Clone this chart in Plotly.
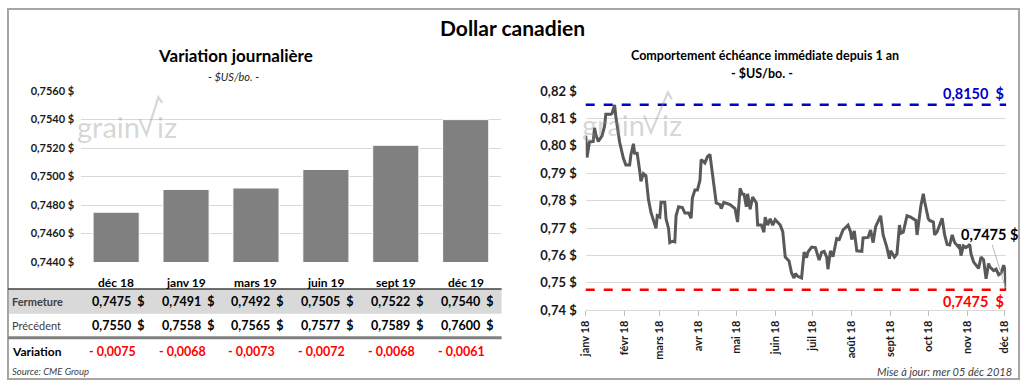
import plotly.graph_objects as go
import pandas as pd

W, H = 1024, 388

# ---------------- data ----------------
categories = ["déc 18", "janv 19", "mars 19", "juin 19", "sept 19", "déc 19"]
fermeture = [0.7475, 0.7491, 0.7492, 0.7505, 0.7522, 0.7540]
precedent = [0.7550, 0.7558, 0.7565, 0.7577, 0.7589, 0.7600]
variation = [-0.0075, -0.0068, -0.0073, -0.0072, -0.0068, -0.0061]
left_ticks = [0.7440, 0.7460, 0.7480, 0.7500, 0.7520, 0.7540, 0.7560]

history_start = "2018-01-01"
history_days = [0, 1, 3, 6, 7, 8, 10, 13, 15, 16, 20, 21, 23, 24, 27, 30, 32, 35, 36, 38,
                39, 41, 43, 44, 46, 48, 50, 52, 56, 57, 59, 60, 63, 64, 66, 67, 69, 71, 72, 74,
                77, 79, 82, 84, 85, 87, 89, 91, 92, 94, 95, 97, 99, 101, 104, 107, 108, 110, 115, 119,
                121, 123, 125, 126, 128, 129, 131, 133, 136, 137, 140, 142, 143, 145, 147, 149, 151, 155, 157, 159,
                162, 164, 166, 167, 169, 172, 174, 176, 177, 180, 183, 186, 188, 190, 192, 193, 195, 197, 200, 202,
                205, 209, 211, 212, 214, 216, 220, 221, 225, 227, 229, 231, 233, 235, 237, 240, 242, 243, 246, 248,
                250, 251, 253, 256, 259, 263, 264, 267, 269, 270, 273, 274, 277, 278, 280, 282, 284, 286, 288, 290,
                292, 294, 297, 298, 299, 301, 303, 306, 307, 309, 311, 313, 315, 317, 319, 321, 322, 325, 327, 329,
                331, 333, 334, 335]
history_values = [0.8037, 0.7958, 0.8014, 0.8016, 0.8066, 0.8043, 0.8016, 0.8037, 0.8072, 0.8116,
                  0.8116, 0.8119, 0.8150, 0.8107, 0.8014, 0.7955, 0.7930, 0.7930, 0.7967, 0.8008,
                  0.7973, 0.7973, 0.7909, 0.7871, 0.7899, 0.7891, 0.7804, 0.7757, 0.7699, 0.7745,
                  0.7740, 0.7794, 0.7794, 0.7734, 0.7699, 0.7647, 0.7652, 0.7650, 0.7745, 0.7778,
                  0.7775, 0.7755, 0.7755, 0.7736, 0.7810, 0.7839, 0.7839, 0.7874, 0.7950, 0.7944,
                  0.7938, 0.7961, 0.7969, 0.7897, 0.7792, 0.7786, 0.7771, 0.7794, 0.7786, 0.7771,
                  0.7722, 0.7845, 0.7821, 0.7827, 0.7778, 0.7825, 0.7769, 0.7813, 0.7792, 0.7711,
                  0.7711, 0.7685, 0.7740, 0.7711, 0.7734, 0.7711, 0.7731, 0.7711, 0.7687, 0.7594,
                  0.7580, 0.7536, 0.7518, 0.7534, 0.7524, 0.7518, 0.7612, 0.7592, 0.7612, 0.7631,
                  0.7629, 0.7583, 0.7612, 0.7615, 0.7594, 0.7550, 0.7617, 0.7596, 0.7662, 0.7658,
                  0.7693, 0.7711, 0.7687, 0.7658, 0.7690, 0.7617, 0.7615, 0.7664, 0.7666, 0.7693,
                  0.7647, 0.7705, 0.7728, 0.7745, 0.7675, 0.7629, 0.7588, 0.7617, 0.7594, 0.7606,
                  0.7711, 0.7681, 0.7685, 0.7745, 0.7740, 0.7728, 0.7675, 0.7780, 0.7825, 0.7798,
                  0.7734, 0.7728, 0.7722, 0.7675, 0.7687, 0.7711, 0.7736, 0.7675, 0.7640, 0.7638,
                  0.7675, 0.7647, 0.7631, 0.7640, 0.7600, 0.7635, 0.7629, 0.7640, 0.7606, 0.7577,
                  0.7565, 0.7553, 0.7594, 0.7585, 0.7515, 0.7571, 0.7559, 0.7545, 0.7550, 0.7530,
                  0.7536, 0.7565, 0.7550, 0.7475]
month_ticks = ["2018-01-01", "2018-02-01", "2018-03-01", "2018-04-01", "2018-05-01", "2018-06-01",
               "2018-07-01", "2018-08-01", "2018-09-01", "2018-10-01", "2018-11-01", "2018-12-01"]
month_labels = ["janv 18", "févr 18", "mars 18", "avr 18", "mai 18", "juin 18",
                "juil 18", "août 18", "sept 18", "oct 18", "nov 18", "déc 18"]
right_ticks = [0.74, 0.75, 0.76, 0.77, 0.78, 0.79, 0.80, 0.81, 0.82]
high_1y = 0.8150
low_1y = 0.7475

assert len(history_days) == len(history_values)
history_dates = pd.to_datetime(history_start) + pd.to_timedelta(history_days, unit="D")


# ---------------- helpers ----------------
def px(x):
    return x / W


def py(y):
    return 1 - y / H


def fr(v, d):
    return f"{v:.{d}f}".replace(".", ",")


FONT = "Lato"
DARK = "#1a1a1a"

fig = go.Figure()

# Left bar chart
fig.add_trace(go.Bar(
    x=categories, y=fermeture, xaxis="x", yaxis="y",
    marker=dict(color="#808080", line=dict(color="#ffffff", width=1)),
    hoverinfo="skip", showlegend=False,
))

# Right line chart
fig.add_trace(go.Scatter(
    x=history_dates, y=history_values, xaxis="x2", yaxis="y2", mode="lines",
    line=dict(color="#595959", width=3), hoverinfo="skip", showlegend=False,
))

shapes = []
annotations = []

# outer border
shapes.append(dict(type="rect", xref="paper", yref="paper", x0=px(1), x1=px(1023), y0=py(387), y1=py(1),
                   line=dict(color="#a6a6a6", width=2), fillcolor="rgba(0,0,0,0)"))

# table backgrounds / rules
shapes.append(dict(type="rect", xref="paper", yref="paper", x0=px(1), x1=px(500), y0=py(319), y1=py(293),
                   line=dict(width=0), fillcolor="#d9d9d9", layer="below"))
shapes.append(dict(type="line", xref="paper", yref="paper", x0=px(1), x1=px(500), y0=py(293), y1=py(293),
                   line=dict(color="#404040", width=1.5)))
shapes.append(dict(type="line", xref="paper", yref="paper", x0=px(1), x1=px(500), y0=py(344), y1=py(344),
                   line=dict(color="#808080", width=3)))

# high / low dashed lines on the right chart
shapes.append(dict(type="line", xref="x2 domain", yref="y2", x0=0, x1=1, y0=high_1y, y1=high_1y,
                   line=dict(color="#0000c8", width=2.5, dash="dash")))
shapes.append(dict(type="line", xref="x2 domain", yref="y2", x0=0, x1=1, y0=low_1y, y1=low_1y,
                   line=dict(color="#ff0000", width=2.5, dash="dash")))


def ann(text, x, y, size, weight="normal", color=DARK, xanchor="center", style="normal", **kw):
    d = dict(text=text, x=x, y=y, xref="paper", yref="paper", showarrow=False,
             xanchor=xanchor, yanchor="middle",
             font=dict(family=FONT, size=size, color=color, weight=weight, style=style))
    d.update(kw)
    annotations.append(d)


# Titles
ann("Dollar canadien", px(511), py(20), 21, "bold", "#000000")
ann("Variation journalière", px(231), py(50), 17, "bold", "#000000")
ann("- $US/bo. -", px(229), py(71), 11, color="#262626", style="italic")
ann("Comportement échéance immédiate depuis 1 an", px(766), py(50), 12.5, "bold", "#000000")
ann("- $US/bo. -", px(763), py(68), 12.5, "bold", "#000000")

# Category labels + table values
for i, c in enumerate(categories):
    annotations.append(dict(text=c, x=c, y=py(286), xref="x", yref="paper", showarrow=False,
                            yanchor="middle", font=dict(family=FONT, size=12, color="#000000", weight="bold")))
    annotations.append(dict(text=fr(fermeture[i], 4) + "&nbsp;&nbsp;$", x=c, y=py(306), xref="x", yref="paper",
                            showarrow=False, yanchor="middle", xshift=2,
                            font=dict(family=FONT, size=12.5, color="#000000", weight="bold")))
    annotations.append(dict(text=fr(precedent[i], 4) + "&nbsp;&nbsp;$", x=c, y=py(331), xref="x", yref="paper",
                            showarrow=False, yanchor="middle", xshift=2,
                            font=dict(family=FONT, size=12.5, color="#000000", weight="bold")))
    annotations.append(dict(text="- " + fr(abs(variation[i]), 4), x=c, y=py(358), xref="x", yref="paper",
                            showarrow=False, yanchor="middle", xshift=-4,
                            font=dict(family=FONT, size=12.5, color="#ff0000", weight="bold")))

ann("Fermeture", px(3), py(306), 11, "bold", "#404040", xanchor="left")
ann("Précédent", px(3), py(331), 11, "normal", "#404040", xanchor="left")
ann("Variation", px(3), py(358), 12, "bold", "#000000", xanchor="left")
ann("Source: CME Group", px(3), py(379), 9.5, color="#404040", xanchor="left", style="italic")
ann("Mise à jour: mer 05 déc 2018", px(1018), py(379), 11, color="#404040", xanchor="right", style="italic")

# Right chart labels
ann(fr(high_1y, 4) + "&nbsp;&nbsp;$", px(1010), py(89), 14.5, "bold", "#0000c8", xanchor="right")
ann(fr(low_1y, 4) + "&nbsp;&nbsp;$", px(1010), py(306), 14.5, "bold", "#ff0000", xanchor="right")
annotations.append(dict(text=fr(history_values[-1], 4) + " $", x=history_dates[-1], y=history_values[-1],
                        xref="x2", yref="y2", showarrow=True, arrowhead=0, arrowwidth=0.8,
                        arrowcolor="#a6a6a6", ax=-17, ay=-55, standoff=2,
                        font=dict(family=FONT, size=14.5, color="#000000", weight="bold")))

# Watermarks ("grainViz")
WM = "rgba(140,140,140,0.36)"
for (gx, gy, vpath, ix) in [
    (69, 124, [(134, 116), (141, 132), (153, 93), (157, 99)], 150),
    (579, 121, [(644, 112), (651, 130), (668, 88), (672, 95)], 660),
]:
    ann("grain", px(gx), py(gy), 29, "normal", WM, xanchor="left")
    ann("iz", px(ix), py(gy), 29, "normal", WM, xanchor="left")
    p = "M " + " L ".join(f"{px(a):.5f},{py(b):.5f}" for a, b in vpath)
    shapes.append(dict(type="path", xref="paper", yref="paper", path=p,
                       line=dict(color=WM, width=2.2)))

fig.update_layout(
    width=W, height=H, margin=dict(l=0, r=0, t=0, b=0),
    paper_bgcolor="#ffffff", plot_bgcolor="#ffffff",
    bargap=0.34, showlegend=False,
    shapes=shapes, annotations=annotations,
    xaxis=dict(domain=[px(75), px(499)], anchor="y", showticklabels=False, showgrid=False,
               zeroline=False, showline=False, ticks=""),
    yaxis=dict(domain=[py(265), py(86.7)], anchor="x", range=[left_ticks[0], left_ticks[-1]],
               tickvals=left_ticks, ticktext=[fr(v, 4) + " $" for v in left_ticks],
               showgrid=True, gridcolor="#d9d9d9", gridwidth=1, zeroline=False, ticks="",
               ticklabelstandoff=6,
               tickfont=dict(family=FONT, size=11, color=DARK, weight="bold")),
    xaxis2=dict(domain=[px(585), px(1010)], anchor="y2", type="date",
                range=["2018-01-01", "2018-12-02"],
                tickvals=month_ticks, ticktext=month_labels, tickangle=-90,
                ticks="outside", ticklen=5, tickcolor="#bfbfbf", showgrid=False,
                showline=True, linecolor="#d9d9d9", zeroline=False,
                tickfont=dict(family=FONT, size=11, color=DARK, weight="bold")),
    yaxis2=dict(domain=[py(315.3), py(86.7)], anchor="x2", range=[right_ticks[0], right_ticks[-1]],
                tickvals=right_ticks, ticktext=[fr(v, 2) + " $" for v in right_ticks],
                showgrid=True, gridcolor="#d9d9d9", gridwidth=1, zeroline=False, ticks="",
                ticklabelstandoff=8,
                tickfont=dict(family=FONT, size=13, color=DARK, weight="bold")),
)

fig.write_html(
    "out.html",
    config={"displayModeBar": False, "staticPlot": True},
    post_script="document.body.style.margin='0';document.body.style.overflow='hidden';"
                "document.documentElement.style.overflow='hidden';",
)
